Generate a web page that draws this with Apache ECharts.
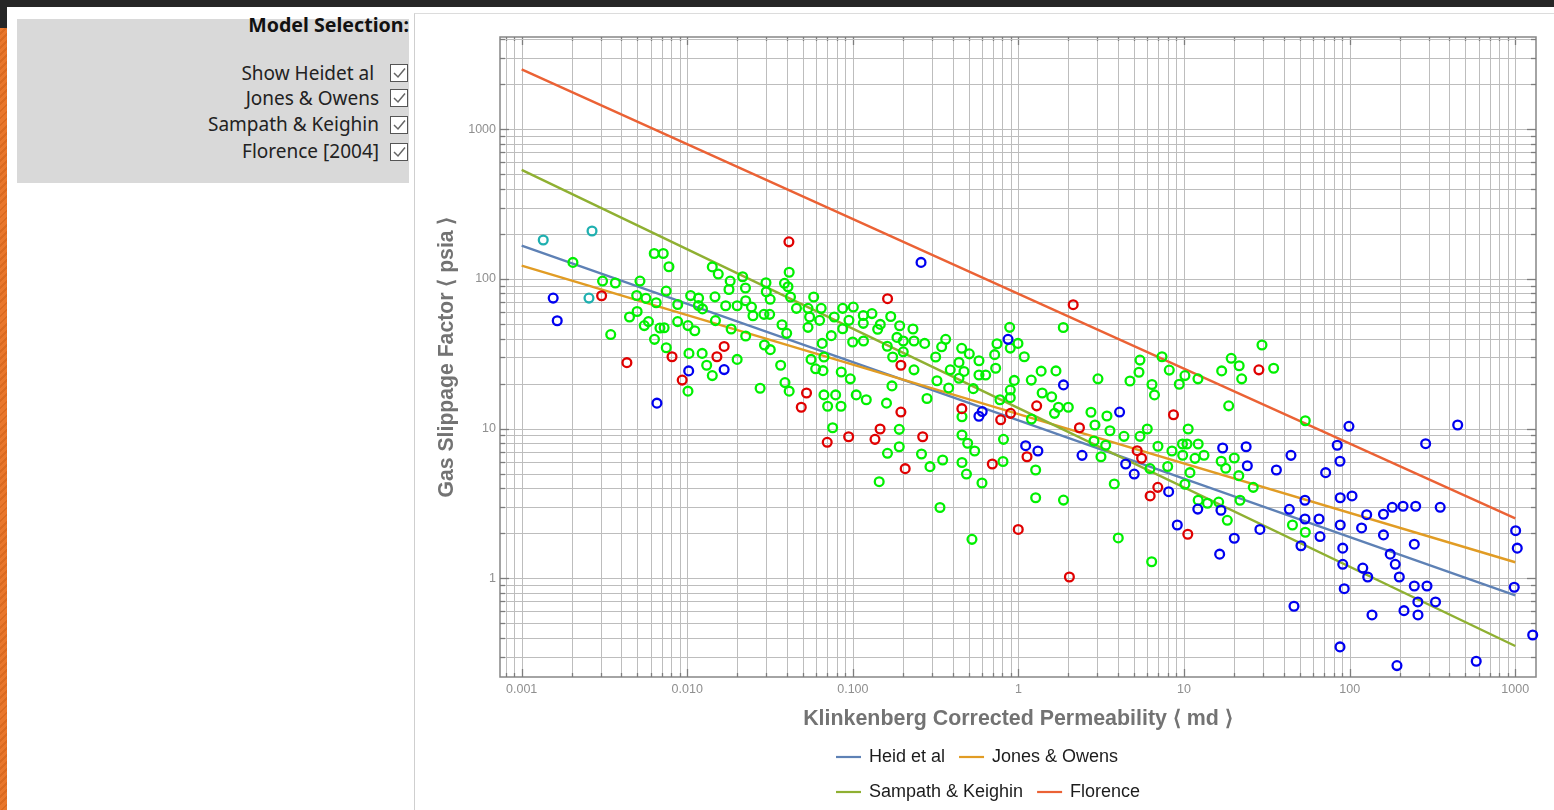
<!DOCTYPE html>
<html>
<head>
<meta charset="utf-8">
<script src="https://cdn.jsdelivr.net/npm/echarts@6/dist/echarts.min.js"></script>
<style>
html,body{margin:0;padding:0;width:1554px;height:810px;overflow:hidden;background:#fff;}
#topbar{position:absolute;left:0;top:0;width:1554px;height:7px;background:#262626;}
#leftdark{position:absolute;left:0;top:0;width:7px;height:28px;background:#262626;}
#leftorange{position:absolute;left:0;top:28px;width:7px;height:782px;background:repeating-linear-gradient(135deg,#e9772c 0 3px,#db6a20 3px 5px);}
#panel{position:absolute;left:17px;top:19px;width:392px;height:164px;background:#d9d9d9;}
.ttl{position:absolute;left:0;width:409px;top:13px;text-align:right;font:bold 19.6px "Noto Sans",sans-serif;line-height:24px;color:#111;}
.row{position:absolute;left:0;width:379px;text-align:right;font:19px "Noto Sans",sans-serif;line-height:24px;color:#222;white-space:pre;}
.cb{position:absolute;left:390px;width:16px;height:16px;border:1.4px solid #555;background:#fff;}
#frame{position:absolute;left:414px;top:13px;width:1140px;height:797px;border-left:1px solid #cfcfcf;border-top:1px solid #dcdcdc;}
#chart{position:absolute;left:416px;top:14px;width:1138px;height:796px;}
</style>
</head>
<body>
<div id="topbar"></div><div id="leftdark"></div><div id="leftorange"></div>
<div id="panel"></div>
<div class="ttl">Model Selection:</div>
<div class="row" style="top:61px">Show Heidet al </div>
<div class="row" style="top:86px">Jones &amp; Owens</div>
<div class="row" style="top:112px">Sampath &amp; Keighin</div>
<div class="row" style="top:139px">Florence [2004]</div>
<div class="cb" style="top:64px"><svg width="16" height="16"><polyline points="3,8 7,12 14,3.5" fill="none" stroke="#666" stroke-width="1.5"/></svg></div>
<div class="cb" style="top:89px"><svg width="16" height="16"><polyline points="3,8 7,12 14,3.5" fill="none" stroke="#666" stroke-width="1.5"/></svg></div>
<div class="cb" style="top:116px"><svg width="16" height="16"><polyline points="3,8 7,12 14,3.5" fill="none" stroke="#666" stroke-width="1.5"/></svg></div>
<div class="cb" style="top:143px"><svg width="16" height="16"><polyline points="3,8 7,12 14,3.5" fill="none" stroke="#666" stroke-width="1.5"/></svg></div>
<div id="frame"></div>
<div id="chart"></div>
<script>
// ---------- axis ranges and tick labels ----------
const X_MIN = 0.00074, X_MAX = 1334;
const Y_MIN = 0.219, Y_MAX = 4136;
const xTickVals = [0.001, 0.01, 0.1, 1, 10, 100, 1000];
const xTickLabels = ['0.001', '0.010', '0.100', '1', '10', '100', '1000'];
const yTickVals = [1, 10, 100, 1000];
const yTickLabels = ['1', '10', '100', '1000'];
const gridMultipliers = [1, 2, 3, 4, 5, 6, 7, 8, 9];
const xDecades = [-4, -3, -2, -1, 0, 1, 2, 3];
const yDecades = [-1, 0, 1, 2, 3];

// ---------- model curves (k in md, b in psia) ----------
const modelK = [0.001, 1, 1000];
const heidB = [167, 11.35, 0.77];
const jonesB = [122.7, 12.5, 1.28];
const sampathB = [535, 13.7, 0.353];
const florenceB = [2515, 79.5, 2.51];

// ---------- measured points [k, b] ----------
const cyanPts = [[0.00135,182],[0.00266,209],[0.00255,74.5]];
const bluePts = [
[0.00155,74.5],[0.00164,52.6],[0.00656,14.8],[0.0102,24.3],[0.0167,24.8],[0.258,129],[0.865,39.5],[0.577,12.1],[0.604,13.0],
[1.105,7.69],[1.31,7.09],[2.42,6.63],[1.87,19.6],[4.08,12.9],[4.44,5.80],[5.00,4.97],[8.07,3.79],[9.10,2.27],[12.1,2.90],
[17.1,7.42],[23.7,7.57],[24.1,5.65],[36.1,5.29],[44.2,6.63],[16.7,2.85],[28.7,2.12],[20.1,1.85],[16.4,1.45],[43.2,2.89],
[46.1,0.650],[50.8,1.65],[53.7,3.32],[53.7,2.49],[65.3,2.49],[66.2,1.90],[71.6,5.08],[84.1,7.74],[87.4,6.05],[87.7,3.45],
[87.7,2.27],[90.8,1.59],[90.8,1.24],[92.7,0.852],[87.4,0.348],[99.0,10.36],[103.3,3.55],[118,2.17],[120,1.17],[126.7,2.66],
[128.5,1.02],[136.4,0.569],[160,2.68],[160,1.95],[175.7,1.45],[180.8,2.98],[188.5,1.24],[193,0.261],[199.4,1.02],[210,3.03],
[212.8,0.608],[245.6,1.69],[245.6,0.888],[250.4,3.03],[258,0.695],[258.5,0.569],[287.6,7.93],[293,0.888],[330,0.695],[352,2.98],
[352,0.216],[449,10.57],[581,0.279],[1005,2.08],[1028,1.59],[986,0.871],[1274,0.418]
];
const redPts = [
[0.00304,77.2],[0.0411,177],[0.00432,27.6],[0.00809,30.2],[0.00932,21.1],[0.0151,30.2],[0.0167,35.4],[0.0525,17.3],[0.0488,13.9],
[0.162,73.8],[0.195,26.5],[0.195,12.9],[0.455,13.6],[0.781,11.45],[0.896,12.65],[1.288,14.2],[2.14,67.3],[2.335,10.14],[8.63,12.38],
[0.070,8.10],[0.0943,8.83],[0.136,8.48],[0.146,9.94],[0.264,8.83],[0.207,5.40],[0.695,5.80],[1.126,6.49],[5.21,7.12],[5.54,6.34],
[6.94,4.05],[6.24,3.55],[10.53,1.97],[0.997,2.12],[2.03,1.02],[28.3,24.7]
];
const greenPts = [
[0.00204,129],[0.00632,148],[0.00716,148],[0.00775,120.6],[0.00308,96.8],[0.00368,93.9],[0.00518,96.8],[0.00746,83.0],[0.00495,77.5],
[0.00563,74.2],[0.00649,69.3],[0.00498,60.6],[0.00448,55.7],[0.00583,51.9],[0.0055,48.8],[0.00684,47.0],[0.00725,47.2],[0.00345,42.5],
[0.00634,39.5],[0.00747,34.7],[0.00876,67.5],[0.01048,77.4],[0.01171,74.4],[0.01168,66.5],[0.01236,63.1],[0.00875,51.9],[0.0101,48.8],
[0.0111,45.1],[0.01024,31.8],[0.0123,31.8],[0.0131,26.5],[0.01416,22.6],[0.0101,17.8],[0.01416,120.4],[0.01539,107.8],[0.01816,96.8],
[0.01786,85.0],[0.0216,103.4],[0.02246,87.0],[0.0147,75.9],[0.01706,66.2],[0.02001,66.2],[0.02253,71.5],[0.02442,64.9],[0.02493,56.8],
[0.0148,52.7],[0.01841,46.3],[0.02253,41.6],[0.02001,29.0],[0.02987,94.3],[0.03,82.1],[0.03167,73.1],[0.02905,58.0],[0.03145,58.0],
[0.02925,36.2],[0.03172,33.7],[0.03733,49.4],[0.03985,43.3],[0.04125,110.9],[0.03864,93.5],[0.04057,88.7],[0.04201,75.7],[0.04565,63.6],
[0.03664,26.5],[0.0389,20.3],[0.04125,17.8],[0.02754,18.6],
[0.058,75.7],[0.0536,63.6],[0.0548,55.7],[0.0644,63.6],[0.063,52.9],[0.0536,47.5],[0.0772,55.7],[0.0868,63.6],[0.1006,64.9],
[0.0947,52.9],[0.0868,46.5],[0.0741,41.8],[0.0653,37.1],[0.0669,30.1],[0.0559,29.0],[0.0596,25.1],[0.066,24.4],[0.0851,23.9],
[0.0965,21.5],[0.0669,16.8],[0.0787,16.8],[0.0704,14.1],[0.0848,14.1],[0.1048,16.8],[0.1205,15.6],[0.0997,37.9],[0.1159,38.5],
[0.1156,57.0],[0.1156,50.5],[0.1304,58.7],[0.1693,56.1],[0.1464,49.7],[0.1412,46.1],[0.1917,48.7],[0.2306,46.3],[0.1613,35.5],
[0.1846,40.7],[0.2015,38.5],[0.2339,38.5],[0.2714,37.1],[0.1739,30.1],[0.2015,32.6],[0.2339,24.7],[0.1722,19.3],[0.1596,14.8],
[0.2803,15.9],[0.3162,30.1],[0.3437,35.2],[0.3634,39.5],[0.322,20.9],[0.3789,18.7],[0.3874,24.7],[0.4373,27.7],[0.4539,34.4],
[0.5047,31.6],[0.4373,21.7],[0.4688,24.1],[0.5334,18.5],[0.5774,28.4],[0.5774,22.8],[0.6339,22.8],[0.7283,25.3],[0.7183,31.2],
[0.7418,36.9],[0.885,47.5],[0.8924,34.5],[0.9931,37.1],[1.084,30.2],[0.9432,21.0],[0.8924,18.1],[0.8924,16.1],[0.7728,15.6],
[1.195,21.1],[1.371,24.2],[1.39,17.3],[0.4559,12.0],[1.198,11.6],
[0.0755,10.14],[0.1906,9.89],[0.1906,7.57],[0.1618,6.84],[0.1442,4.42],[0.2922,5.57],[0.2597,6.77],[0.3486,6.17],[0.3357,2.97],
[0.4559,9.06],[0.4559,5.94],[0.4853,4.97],[0.4934,7.98],[0.5438,7.09],[0.6021,4.33],[0.5238,1.82],[0.8118,8.48],[0.8062,6.03],
[1.27,5.29],[1.27,3.45],[1.87,3.33],[4.006,1.86],[6.373,1.29],
[1.865,47.4],[1.684,24.3],[3.02,21.5],[1.587,16.3],[1.744,13.9],[1.65,12.65],[2.0,13.9],[2.74,12.87],[2.897,10.57],[3.422,12.14],
[3.568,9.68],[2.858,8.27],[3.362,7.74],[3.149,6.49],[4.336,8.88],[5.416,8.88],[5.996,9.94],[3.789,4.27],[5.416,28.7],[5.342,23.8],
[4.713,20.8],[6.4,19.7],[6.626,16.8],[7.357,30.2],[8.141,24.6],[9.354,19.8],[10.12,22.6],[12.13,21.5],[6.955,7.62],[6.225,5.41],
[7.962,5.58],[8.451,7.09],[9.78,7.89],[10.59,9.94],[10.41,7.89],[12.17,7.89],[9.81,6.64],[11.64,6.33],[13.19,6.64],[10.85,5.08],
[10.12,4.25],[12.17,3.32],[13.84,3.17],[16.18,3.23],[18.24,2.44],[16.87,24.3],[19.25,29.5],[21.51,26.3],[22.28,21.5],[29.54,36.2],
[34.75,25.3],[18.6,14.2],[16.75,6.05],[17.84,5.43],[20.1,6.36],[21.4,4.85],[26.17,4.05],[21.76,3.32],[45.13,2.27],[53.95,11.29],
[53.95,2.03]
];

// ---------- helpers ----------
const FONT = '"Liberation Sans", Arial, sans-serif';
function gridValues(decades, lo, hi) {
  const out = [];
  decades.forEach(d => gridMultipliers.forEach(m => {
    const v = m * Math.pow(10, d);
    if (v >= lo && v <= hi) out.push(v);
  }));
  return out;
}
function isDecade(v) {
  const l = Math.log10(v);
  return Math.abs(l - Math.round(l)) < 1e-6;
}
function labelFor(vals, labels) {
  return function (v) {
    for (let i = 0; i < vals.length; i++) {
      if (Math.abs(Math.log10(v) - Math.log10(vals[i])) < 1e-6) return labels[i];
    }
    return '';
  };
}
const xGridVals = gridValues(xDecades, X_MIN, X_MAX);
const yGridVals = gridValues(yDecades, Y_MIN, Y_MAX);
const GRID_C = '#bdbdbd', TICK_C = '#7d7d7d';

const xGridSeries = {
  type: 'custom', silent: true, z: 1, clip: false,
  data: xGridVals.map(v => [v, Y_MIN]),
  renderItem(params, api) {
    const v = api.value(0);
    const b = api.coord([v, Y_MIN]), t = api.coord([v, Y_MAX]);
    const x = Math.round(b[0]) + 0.5;
    const L = isDecade(v) ? 8 : 4;
    return { type: 'group', children: [
      { type: 'line', shape: { x1: x, y1: b[1], x2: x, y2: t[1] }, style: { stroke: GRID_C, lineWidth: 1 } },
      { type: 'line', shape: { x1: x, y1: b[1], x2: x, y2: b[1] - L }, style: { stroke: TICK_C, lineWidth: 1.3 } },
      { type: 'line', shape: { x1: x, y1: t[1], x2: x, y2: t[1] + L }, style: { stroke: TICK_C, lineWidth: 1.3 } }
    ]};
  }
};
const yGridSeries = {
  type: 'custom', silent: true, z: 1, clip: false,
  data: yGridVals.map(v => [X_MIN, v]),
  renderItem(params, api) {
    const v = api.value(1);
    const l = api.coord([X_MIN, v]), r = api.coord([X_MAX, v]);
    const y = Math.round(l[1]) + 0.5;
    const L = isDecade(v) ? 9 : 5;
    return { type: 'group', children: [
      { type: 'line', shape: { x1: l[0], y1: y, x2: r[0], y2: y }, style: { stroke: GRID_C, lineWidth: 1 } },
      { type: 'line', shape: { x1: l[0], y1: y, x2: l[0] + L, y2: y }, style: { stroke: TICK_C, lineWidth: 1.3 } },
      { type: 'line', shape: { x1: r[0], y1: y, x2: r[0] - L, y2: y }, style: { stroke: TICK_C, lineWidth: 1.3 } }
    ]};
  }
};

function modelSeries(name, vals, color) {
  return { name, type: 'line', z: 3, showSymbol: false, symbol: 'none', silent: true,
    lineStyle: { color, width: 2.4 }, itemStyle: { color },
    data: modelK.map((k, i) => [k, vals[i]]) };
}
function pointSeries(name, pts, color) {
  return { name, type: 'scatter', z: 4, symbol: 'circle', symbolSize: 8.8, silent: true,
    itemStyle: { color: 'rgba(0,0,0,0)', borderColor: color, borderWidth: 2.3, opacity: 1 },
    data: pts };
}

const legendCommon = {
  orient: 'horizontal', icon: 'rect', itemWidth: 25, itemHeight: 2.2, itemGap: 14, padding: 5,
  textStyle: { fontSize: 18, color: '#1c1c1c', fontFamily: FONT, padding: [0, 0, 0, 3] },
  selectedMode: false
};

const chart = echarts.init(document.getElementById('chart'));
chart.setOption({
  animation: false,
  backgroundColor: 'transparent',
  grid: { left: 84, top: 23, width: 1036, height: 640, show: true, borderColor: '#868686', borderWidth: 1.5, backgroundColor: '#fff' },
  xAxis: {
    type: 'log', logBase: 10, min: X_MIN, max: X_MAX,
    axisLine: { show: false }, axisTick: { show: false }, splitLine: { show: false },
    axisLabel: { formatter: labelFor(xTickVals, xTickLabels), color: '#8f8f8f', fontSize: 12.5, fontFamily: FONT, margin: 6, showMinLabel: true, showMaxLabel: true },
    name: 'Klinkenberg Corrected Permeability \u27E8 md \u27E9', nameLocation: 'middle', nameGap: 32,
    nameTextStyle: { fontSize: 21.4, fontWeight: 'bold', color: '#737373', fontFamily: FONT }
  },
  yAxis: {
    type: 'log', logBase: 10, min: Y_MIN, max: Y_MAX,
    axisLine: { show: false }, axisTick: { show: false }, splitLine: { show: false },
    axisLabel: { formatter: labelFor(yTickVals, yTickLabels), color: '#8f8f8f', fontSize: 12.5, fontFamily: FONT, margin: 4 },
    name: 'Gas Slippage Factor \u27E8 psia \u27E9', nameLocation: 'middle', nameGap: 41,
    nameTextStyle: { fontSize: 21.2, fontWeight: 'bold', color: '#737373', fontFamily: FONT }
  },
  legend: [
    Object.assign({ left: 415, top: 729, data: ['Heid et al', 'Jones & Owens'] }, legendCommon),
    Object.assign({ left: 415, top: 764, data: ['Sampath & Keighin', 'Florence'] }, legendCommon)
  ],
  series: [
    xGridSeries, yGridSeries,
    modelSeries('Heid et al', heidB, '#5e81b5'),
    modelSeries('Jones & Owens', jonesB, '#e19c24'),
    modelSeries('Sampath & Keighin', sampathB, '#8fb032'),
    modelSeries('Florence', florenceB, '#eb6235'),
    pointSeries('green', greenPts, '#00f000'),
    pointSeries('blue', bluePts, '#0000f0'),
    pointSeries('red', redPts, '#e00000'),
    pointSeries('cyan', cyanPts, '#1fb0b0')
  ]
});
</script>
</body>
</html>
